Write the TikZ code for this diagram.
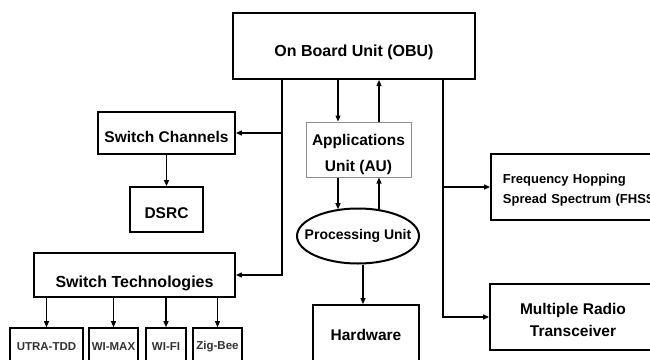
\documentclass[tikz,border=0pt]{standalone}
\usepackage{fontspec}
\setmainfont{Liberation Sans}
\usetikzlibrary{shapes.geometric,arrows.meta}
\begin{document}
\begin{tikzpicture}[x=1pt,y=-1pt,
  box/.style={draw, line width=1.8pt, inner sep=0pt, align=center, font=\bfseries\fontsize{15.5}{24}\selectfont},
  smallbox/.style={draw, line width=1.6pt, inner sep=0pt, font=\bfseries\fontsize{11.5}{14}\selectfont, text=black!80},
  conn/.style={line width=1.2pt},
  arr/.style={conn, -{Triangle[length=6pt,width=5pt]}},
]
\useasboundingbox (0,0) rectangle (650,359);
\clip (0,0) rectangle (650,359);
\fill[white] (0,0) rectangle (650,359);

\node[box, minimum width=242pt, minimum height=66pt, line width=2pt, text height=21.5pt, text depth=0pt, font=\bfseries\fontsize{16}{19}\selectfont] (obu) at (354,46) {On Board Unit (OBU)};
\node[box, minimum width=137pt, minimum height=42pt, text height=19pt, text depth=0pt] (sc) at (166.5,133) {Switch Channels};
\node[box, minimum width=73pt, minimum height=45pt, text height=18pt, text depth=0pt] (dsrc) at (166.5,209.5) {DSRC};
\node[box, minimum width=201pt, minimum height=44pt, text height=25pt, text depth=0pt, font=\bfseries\fontsize{16}{19}\selectfont] (st) at (134.5,275) {Switch Technologies};

\node[smallbox, minimum width=73pt, minimum height=38pt] (utra) at (46.5,347) {UTRA-TDD};
\node[smallbox, minimum width=49pt, minimum height=38pt] (wimax) at (113.5,347) {WI-MAX};
\node[smallbox, minimum width=40pt, minimum height=38pt] (wifi) at (166,347) {WI-FI};
\node[smallbox, minimum width=49pt, minimum height=38pt] (zig) at (217.5,347) {Zig-Bee};

\node[box, draw=black!45, line width=1pt, minimum width=105pt, minimum height=55pt, font=\bfseries\fontsize{15.5}{26}\selectfont] (au) at (358.5,149.5) {\rule{0pt}{21.5pt}Applications\\Unit (AU)};
\node[draw, ellipse, line width=2pt, minimum width=122pt, minimum height=55pt, inner sep=0pt, font=\bfseries\fontsize{14}{17}\selectfont] (pu) at (358,236) {\makebox[0pt]{Processing Unit}};
\node[box, minimum width=106pt, minimum height=60pt] (hw) at (366,335) {Hardware};

\node[box, anchor=west, minimum height=66pt, text width=180pt, inner xsep=12pt, align=left, font=\bfseries\fontsize{13}{20}\selectfont] (fhss) at (490,187) {\rule{0pt}{15.5pt}Frequency Hopping\\Spread Spectrum (FHSS)};
\node[box, minimum width=166pt, minimum height=66pt, font=\bfseries\fontsize{15.5}{22}\selectfont] (mrt) at (573,317) {\rule{0pt}{17.5pt}Multiple Radio\\Transceiver};

\coordinate (ltop) at ([xshift=50pt]obu.south west);
\coordinate (rtop) at ([xshift=-33pt]obu.south east);
\draw[arr] (ltop) |- (st.east);
\draw[arr] (ltop |- sc.east) -- (sc.east);
\draw[arr] (sc.south) -- (dsrc.north);
\foreach \n in {utra,wimax,wifi,zig}{
  \draw[arr] (\n.north |- st.south) -- (\n.north);
}
\draw[arr] (rtop) |- (mrt.west);
\draw[arr] (rtop |- fhss.west) -- (fhss.west);

\coordinate (a1) at ([xshift=-20.5pt]au.north);
\coordinate (a2) at ([xshift=20.5pt]au.north);
\coordinate (b1) at ([xshift=-20.5pt]au.south);
\coordinate (b2) at ([xshift=20.5pt]au.south);
\draw[arr] (a1 |- obu.south) -- (a1);
\draw[arr] (a2) -- (a2 |- obu.south);
\draw[arr] (b1) -- (b1 |- pu.128);
\draw[arr] (b2 |- pu.52) -- (b2);
\coordinate (h1) at ([xshift=-3pt]hw.north);
\draw[arr] (h1 |- pu.south) -- (h1);
\end{tikzpicture}
\end{document}
